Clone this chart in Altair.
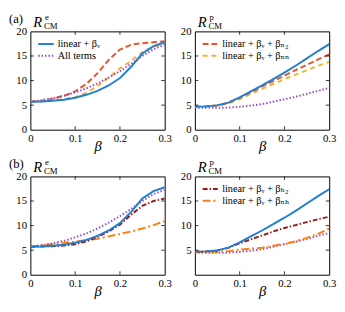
import altair as alt
import pandas as pd

# ---------------- data ----------------
beta = [0, 0.025, 0.05, 0.075, 0.1, 0.125, 0.15, 0.175, 0.2, 0.225, 0.25, 0.275, 0.3]

# electron-like R^e_CM
re_lin_nu = [5.7, 5.75, 5.9, 6.1, 6.5, 7.1, 7.9, 9.0, 10.5, 12.8, 15.5, 17.0, 17.8]
re_n2 = [5.7, 5.9, 6.3, 6.9, 7.8, 9.3, 11.5, 14.2, 16.3, 17.3, 17.6, 17.8, 18.0]
re_nn = [5.7, 5.8, 6.0, 6.2, 6.6, 7.5, 8.9, 10.6, 12.5, 14.0, 15.8, 16.9, 17.5]
re_all = [5.7, 6.0, 6.4, 6.9, 7.6, 8.4, 9.4, 10.6, 11.9, 13.4, 15.0, 16.4, 17.3]
re_h2 = [5.7, 5.75, 5.8, 5.95, 6.2, 6.8, 7.7, 8.8, 10.2, 12.2, 14.0, 15.0, 15.5]
re_nh = [5.7, 6.0, 6.2, 6.5, 6.7, 7.0, 7.3, 7.8, 8.3, 8.8, 9.4, 10.1, 10.9]

# proton-like R^p_CM
rp_lin_nu = [4.7, 4.75, 4.95, 5.5, 6.6, 7.8, 9.0, 10.3, 11.6, 13.0, 14.5, 16.0, 17.4]
rp_n2 = [4.7, 4.75, 4.95, 5.5, 6.5, 7.6, 8.8, 9.9, 11.0, 12.1, 13.2, 14.3, 15.3]
rp_nn = [4.7, 4.7, 4.9, 5.3, 6.2, 7.3, 8.3, 9.3, 10.3, 11.2, 12.1, 13.0, 13.8]
rp_all = [4.5, 4.45, 4.45, 4.5, 4.65, 4.9, 5.2, 5.7, 6.2, 6.7, 7.3, 7.9, 8.5]
rp_h2 = [4.7, 4.75, 4.9, 5.5, 6.4, 7.2, 8.0, 8.8, 9.5, 10.1, 10.7, 11.3, 11.8]
rp_nh = [4.6, 4.6, 4.65, 4.8, 5.1, 5.3, 5.5, 5.9, 6.3, 6.8, 7.5, 8.3, 9.4]

x_ticks = [0, 0.1, 0.2, 0.3]
y_ticks = [0, 5, 10, 15, 20]
x_inner = [0.1, 0.2]
y_inner = [5, 10, 15]

lab_lin_nu = "linear + βᵥ"
lab_all = "All terms"
lab_n2 = "linear + βᵥ + βₙ₂"
lab_nn = "linear + βᵥ + βₙₙ"
lab_h2 = "linear + βᵥ + βₕ₂"
lab_nh = "linear + βᵥ + βₙₕ"

# ---------------- styles ----------------
FONT = "Liberation Serif, DejaVu Serif, serif"
W, H = 138, 101
C_BLUE = "#1f7fd0"
C_RED = "#e5572a"
C_YEL = "#f2b232"
C_PUR = "#9a4bbf"
C_DRED = "#9b1b1b"
C_ORG = "#ff7f0e"

S_BLUE = dict(color=C_BLUE, strokeWidth=2)
S_RED = dict(color=C_RED, strokeWidth=2, strokeDash=[6, 3])
S_YEL = dict(color=C_YEL, strokeWidth=2, strokeDash=[5, 4])
S_PUR = dict(color=C_PUR, strokeWidth=2, strokeDash=[1.5, 2])
S_DRED = dict(color=C_DRED, strokeWidth=2, strokeDash=[5, 2, 1.5, 2])
S_ORG = dict(color=C_ORG, strokeWidth=2, strokeDash=[8, 3, 2, 3])

xs = alt.Scale(domain=[0, 0.3], nice=False, zero=False)
ys = alt.Scale(domain=[0, 20], nice=False)


def xaxis():
    return alt.Axis(values=x_ticks, ticks=False, domain=False, grid=False,
                    labelExpr="datum.value == 0 ? '0' : format(datum.value, '.1f')",
                    labelFont=FONT, labelFontSize=11, labelColor="black", labelPadding=3,
                    labelFlush=False, title="β", titleFont=FONT, titleFontSize=15,
                    titleFontStyle="italic", titleFontWeight="normal", titlePadding=-5,
                    titleColor="black")


def yaxis(hide0=False):
    expr = "datum.value == 0 ? '' : datum.label" if hide0 else "datum.label"
    return alt.Axis(values=y_ticks, ticks=False, domain=False, grid=False,
                    labelExpr=expr, labelFont=FONT, labelFontSize=11, labelColor="black",
                    labelPadding=4, labelFlush=False, title=None)


def curve(vals, style, hide0):
    df = pd.DataFrame({"beta": beta, "R": vals})
    return alt.Chart(df).mark_line(clip=True, **style).encode(
        x=alt.X("beta:Q", scale=xs, axis=xaxis()),
        y=alt.Y("R:Q", scale=ys, axis=yaxis(hide0)),
    )


def ticks(hide0):
    dx = pd.DataFrame({"beta": x_inner})
    dy = pd.DataFrame({"R": y_inner})
    base_x = alt.Chart(dx).mark_rule(color="black", strokeWidth=0.8)
    base_y = alt.Chart(dy).mark_rule(color="black", strokeWidth=0.8)
    X = alt.X("beta:Q", scale=xs, axis=xaxis())
    Y = alt.Y("R:Q", scale=ys, axis=yaxis(hide0))
    return [
        base_x.encode(x=X, y=alt.value(H), y2=alt.value(H - 3.5)),
        base_x.encode(x=X, y=alt.value(0), y2=alt.value(3.5)),
        base_y.encode(y=Y, x=alt.value(0), x2=alt.value(3.5)),
        base_y.encode(y=Y, x=alt.value(W - 3.5), x2=alt.value(W)),
    ]


def legend(entries):
    layers = []
    for i, (lab, style) in enumerate(entries):
        yy = 13 + 12 * i
        layers.append(alt.Chart(pd.DataFrame({"a": [0]})).mark_rule(**style).encode(
            x=alt.value(8), x2=alt.value(24), y=alt.value(yy)))
        layers.append(alt.Chart(pd.DataFrame({"t": [lab]})).mark_text(
            font=FONT, fontSize=10.5, align="left", baseline="middle", color="black").encode(
            text="t:N", x=alt.value(28), y=alt.value(yy)))
    return layers


def titles(sup, panel_label):
    layers = []

    def txt(s, x, y, size, style="normal"):
        return alt.Chart(pd.DataFrame({"t": [s]})).mark_text(
            font=FONT, fontSize=size, fontStyle=style, align="left",
            baseline="alphabetic", color="black").encode(
            text="t:N", x=alt.value(x), y=alt.value(y))

    layers.append(txt("R", 3, -5, 15, "italic"))
    layers.append(txt(sup, 15, -12, 9))
    layers.append(txt("CM", 14, -2, 9))
    if panel_label:
        layers.append(txt(panel_label, -22, -9, 13))
    return layers


def panel(series, leg, sup, plabel, hide0=False):
    layers = [curve(v, s, hide0) for v, s in series]
    layers += ticks(hide0)
    layers += legend(leg)
    layers += titles(sup, plabel)
    return alt.layer(*layers).properties(width=W, height=H)


pa_e = panel([(re_n2, S_RED), (re_nn, S_YEL), (re_all, S_PUR), (re_lin_nu, S_BLUE)],
             [(lab_lin_nu, S_BLUE), (lab_all, S_PUR)], "e", "(a)")
pa_p = panel([(rp_all, S_PUR), (rp_nn, S_YEL), (rp_n2, S_RED), (rp_lin_nu, S_BLUE)],
             [(lab_n2, S_RED), (lab_nn, S_YEL)], "p", None)
pb_e = panel([(re_nh, S_ORG), (re_all, S_PUR), (re_h2, S_DRED), (re_lin_nu, S_BLUE)],
             [], "e", "(b)")
pb_p = panel([(rp_all, S_PUR), (rp_nh, S_ORG), (rp_h2, S_DRED), (rp_lin_nu, S_BLUE)],
             [(lab_h2, S_DRED), (lab_nh, S_ORG)], "p", None, hide0=True)

chart = alt.concat(pa_e, pa_p, pb_e, pb_p, columns=2,
                   spacing=alt.RowColnumber(row=48, column=31)).properties(
    bounds="flush", padding=0, background="white"
).configure_view(stroke="black", strokeWidth=1)

chart.save("out.html", embed_options={"renderer": "svg", "actions": False})
